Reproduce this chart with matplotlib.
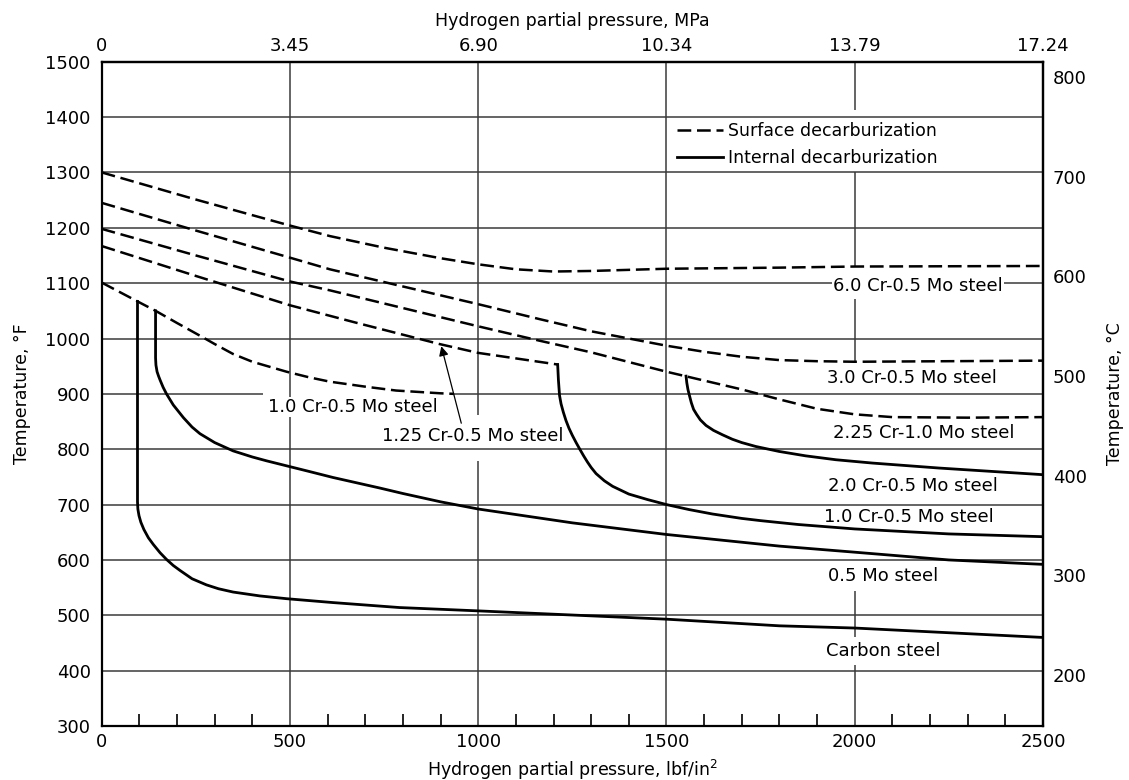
"""
Nelson-type chart: hydrogen decarburization limits for steels
"""
import matplotlib
matplotlib.use('Agg')
import matplotlib.pyplot as plt
from matplotlib.ticker import MultipleLocator, FixedLocator, FixedFormatter

# --- surface decarburization limits (dashed), H2 pressure in psi vs temperature in deg F
cr6_psi = [0, 250, 500, 606, 750, 900, 1000, 1100, 1200, 1300, 1500, 1800, 2000, 2500]
cr6_f = [1300, 1251, 1204, 1185, 1164, 1145, 1134, 1125, 1121, 1122, 1126, 1128, 1130, 1131]

cr3_psi = [0, 250, 500, 606, 1000, 1163, 1300, 1500, 1600, 1700, 1800, 1900, 2000, 2500]
cr3_f = [1245, 1195, 1146, 1125, 1062, 1035, 1013, 987, 976, 967, 961, 959, 958, 960]

cr225_psi = [0, 250, 500, 606, 1000, 1163, 1300, 1500, 1600, 1700, 1800, 1900, 2000, 2100,
             2300, 2500]
cr225_f = [1198, 1150, 1103, 1087, 1022, 996, 975, 940, 924, 908, 890, 873, 863, 858,
           857, 858]

cr125_psi = [0, 250, 500, 606, 673, 897, 1000, 1211]
cr125_f = [1167, 1113, 1060, 1041, 1029, 990, 974, 953]

cr1_psi = [0, 95, 143, 200, 261, 300, 349, 400, 491, 550, 606, 700, 782, 900, 935]
cr1_f = [1101, 1067, 1050, 1028, 1005, 990, 972, 958, 940, 930, 922, 913, 906, 901, 900]

# --- internal decarburization limits (solid)
carbon_psi = [95, 95, 96, 99, 104, 112, 124, 137, 155, 172, 190, 208, 240, 278, 310, 349,
              420, 491, 614, 791, 1000, 1500, 1800, 2000, 2500]
carbon_f = [1067, 705, 692, 680, 668, 655, 640, 628, 613, 601, 590, 581, 566, 555, 548, 542,
            535, 530, 523, 514, 508, 493, 481, 477, 460]

mo05_psi = [143, 143, 144, 147, 151, 155, 163, 172, 190, 217, 240, 261, 300, 349, 400, 438,
            491, 550, 614, 738, 800, 900, 1000, 1250, 1500, 1800, 2000, 2250, 2500]
mo05_f = [1050, 965, 952, 940, 932, 925, 912, 900, 880, 857, 840, 828, 812, 797, 786, 779,
          770, 760, 749, 730, 720, 705, 692, 667, 646, 625, 614, 600, 592]

cr1s_psi = [1211, 1213, 1216, 1220, 1226, 1233, 1241, 1250, 1260, 1269, 1280, 1290, 1300,
            1313, 1335, 1357, 1400, 1450, 1500, 1560, 1622, 1700, 1750, 1850, 2000, 2250, 2500]
cr1s_f = [953, 925, 897, 882, 867, 852, 838, 825, 812, 801, 788, 777, 767, 756, 743, 733,
          719, 709, 700, 691, 683, 675, 671, 664, 656, 647, 642]

cr2s_psi = [1552, 1554, 1557, 1561, 1566, 1572, 1580, 1590, 1605, 1625, 1649, 1675, 1700,
            1737, 1799, 1870, 1950, 2047, 2224, 2500]
cr2s_f = [932, 920, 908, 897, 884, 872, 863, 853, 843, 834, 826, 818, 812, 805, 796, 788,
          781, 775, 766, 754]

# curve labels: text, psi, deg F
steel_labels = [
    ("6.0 Cr-0.5 Mo steel", 2168, 1095),
    ("3.0 Cr-0.5 Mo steel", 2151, 928),
    ("2.25 Cr-1.0 Mo steel", 2184, 829),
    ("2.0 Cr-0.5 Mo steel", 2155, 733),
    ("1.0 Cr-0.5 Mo steel", 2144, 677),
    ("0.5 Mo steel", 2075, 571),
    ("Carbon steel", 2075, 436),
    ("1.0 Cr-0.5 Mo steel", 667, 877),
    ("1.25 Cr-0.5 Mo steel", 986, 823),
]

mpa_ticks = [0, 3.45, 6.90, 10.34, 13.79, 17.24]
mpa_labels = ['0', '3.45', '6.90', '10.34', '13.79', '17.24']
degc_ticks = [200, 300, 400, 500, 600, 700, 800]
MPA_PER_PSI = 17.24 / 2500

plt.rcParams['font.family'] = ['DejaVu Sans']
fig = plt.figure(figsize=(11.29, 7.80), dpi=100)
ax = fig.add_axes([0.0901, 0.0692, 0.8337, 0.8517])
ax.set_xlim(0, 2500)
ax.set_ylim(300, 1500)

# grid (drawn by hand because the original has gaps around labels)
gc = '#3a3a3a'
glw = 1.1
for t in [400, 500, 600, 700, 1000, 1100, 1200, 1300, 1400]:
    ax.hlines(t, 0, 2500, color=gc, lw=glw, zorder=1)
ax.hlines(800, 0, 2500, color=gc, lw=glw, zorder=2.5)
ax.hlines(900, 0, 428, color=gc, lw=glw, zorder=1)
ax.hlines(900, 932, 2500, color=gc, lw=glw, zorder=1)
ax.vlines([500, 1500], 300, 1500, color=gc, lw=glw, zorder=1)
ax.vlines(1000, 300, 778, color=gc, lw=glw, zorder=1)
ax.vlines(1000, 861, 1500, color=gc, lw=glw, zorder=1)
for lo, hi in [(1413, 1500), (1131, 1300), (959, 1071), (460, 544), (300, 410)]:
    ax.vlines(2000, lo, hi, color=gc, lw=glw, zorder=1)

dash = (5.5, 2.3)
for xs, ys in [(cr6_psi, cr6_f), (cr3_psi, cr3_f), (cr225_psi, cr225_f),
               (cr125_psi, cr125_f), (cr1_psi, cr1_f)]:
    ax.plot(xs, ys, color='black', lw=1.8, linestyle=(0, dash), zorder=3)
for xs, ys in [(carbon_psi, carbon_f), (mo05_psi, mo05_f), (cr1s_psi, cr1s_f),
               (cr2s_psi, cr2s_f)]:
    ax.plot(xs, ys, color='black', lw=2.0, zorder=3)

for txt, px, tf in steel_labels:
    ax.text(px, tf, txt, fontsize=13, ha='center', va='center', zorder=2,
            bbox=dict(facecolor='white', edgecolor='none', pad=0.8))

# arrow from the 1.25 Cr label to its curve
ax.annotate('', xy=(902, 986), xytext=(955, 847),
            arrowprops=dict(arrowstyle='-|>', color='black', lw=0.9,
                            mutation_scale=14, shrinkA=0, shrinkB=0), zorder=4)

# legend
ax.plot([], [], color='black', lw=1.8, linestyle=(0, dash), label='Surface decarburization')
ax.plot([], [], color='black', lw=2.0, label='Internal decarburization')
ax.legend(loc='upper left', bbox_to_anchor=(0.611, 0.909), frameon=False, fontsize=12.5,
          handlelength=2.65, handletextpad=0.3, borderpad=0, borderaxespad=0,
          labelspacing=0.5)

# axes, ticks
for s in ax.spines.values():
    s.set_linewidth(1.6)
ax.xaxis.set_major_locator(MultipleLocator(500))
ax.xaxis.set_minor_locator(MultipleLocator(100))
ax.yaxis.set_major_locator(MultipleLocator(100))
ax.tick_params(axis='x', which='major', length=0, pad=5, labelsize=13)
ax.tick_params(axis='x', which='minor', direction='in', length=8.5, width=1.2)
ax.tick_params(axis='y', which='both', length=0, pad=8, labelsize=13)
ax.set_xlabel('Hydrogen partial pressure, lbf/in$^2$', fontsize=12.5, labelpad=5)
ax.set_ylabel('Temperature, °F', fontsize=12.5, labelpad=10)

top = ax.secondary_xaxis('top', functions=(lambda p: p * MPA_PER_PSI, lambda m: m / MPA_PER_PSI))
top.xaxis.set_major_locator(FixedLocator(mpa_ticks))
top.xaxis.set_major_formatter(FixedFormatter(mpa_labels))
top.tick_params(length=0, pad=5, labelsize=13)
top.spines['top'].set_linewidth(1.6)
top.set_xlabel('Hydrogen partial pressure, MPa', fontsize=12.5, labelpad=8)

right = ax.secondary_yaxis('right', functions=(lambda f: (f - 32) / 1.8, lambda c: c * 1.8 + 32))
right.yaxis.set_major_locator(FixedLocator(degc_ticks))
right.tick_params(length=0, pad=7, labelsize=13)
right.spines['right'].set_linewidth(1.6)
right.set_ylabel('Temperature, °C', fontsize=12.5, labelpad=14)

plt.savefig('out.png', dpi=100)
